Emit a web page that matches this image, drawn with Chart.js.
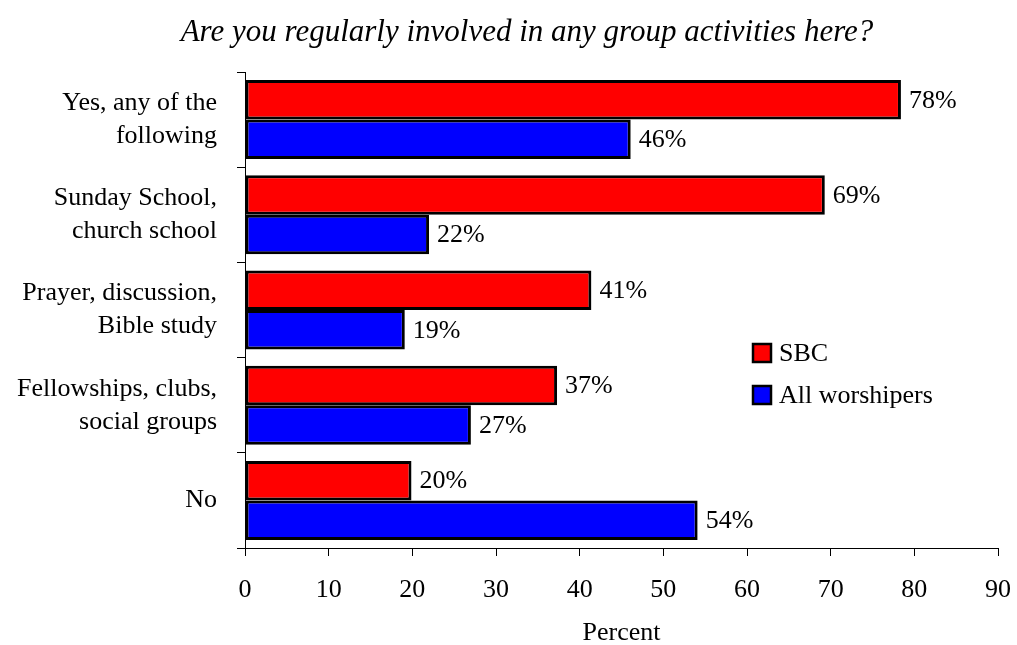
<!DOCTYPE html>
<html>
<head>
<meta charset="utf-8">
<script src="https://cdn.jsdelivr.net/npm/chart.js@4"></script>
<style>
  html,body{margin:0;padding:0;background:#fff;}
  #wrap{width:1017px;height:645px;}
</style>
</head>
<body>
<div id="wrap"><canvas id="ch" width="1017" height="645"></canvas></div>
<script>
const SERIF = "'Liberation Serif','Times New Roman',serif";

const title = 'Are you regularly involved in any group activities here?';
const categories = [
  ['Yes, any of the', 'following'],
  ['Sunday School,', 'church school'],
  ['Prayer, discussion,', 'Bible study'],
  ['Fellowships, clubs,', 'social groups'],
  'No'
];
// bar lengths as measured; the printed labels are the rounded percents
const sbc = [78.4, 69.3, 41.4, 37.3, 19.9];
const allWorshipers = [46.1, 22.0, 19.1, 27.0, 54.1];
const xTicks = [0, 10, 20, 30, 40, 50, 60, 70, 80, 90];

// value labels at the end of each bar
const valueLabels = {
  id: 'valueLabels',
  afterDatasetsDraw(chart){
    const ctx = chart.ctx;
    ctx.save();
    ctx.font = '26px ' + SERIF;
    ctx.fillStyle = '#000';
    ctx.textBaseline = 'middle';
    chart.data.datasets.forEach((ds, i)=>{
      chart.getDatasetMeta(i).data.forEach((bar, j)=>{
        ctx.fillText(Math.round(ds.data[j]) + '%', bar.x + 8, bar.y + 1);
      });
    });
    ctx.restore();
  }
};

// legend sitting inside the plot, right of the short bars; title centred off-canvas-centre
const extras = {
  id: 'extras',
  afterDraw(chart){
    const ctx = chart.ctx;
    ctx.save();
    ctx.fillStyle = '#000';
    ctx.font = 'italic 31px ' + SERIF;
    ctx.textAlign = 'center';
    ctx.textBaseline = 'middle';
    ctx.fillText(title, 527, 33);

    const x = 753, y0 = 353, gap = 42;
    ctx.font = '26px ' + SERIF;
    ctx.textAlign = 'left';
    chart.data.datasets.forEach((ds, i)=>{
      const y = y0 + i*gap;
      ctx.fillStyle = ds.backgroundColor;
      ctx.fillRect(x, y - 9, 18, 18);
      ctx.lineWidth = 2.5; ctx.strokeStyle = '#000';
      ctx.strokeRect(x, y - 9, 18, 18);
      ctx.fillStyle = '#000';
      ctx.fillText(ds.label, x + 26, y + 1);
    });
    ctx.restore();
  }
};

new Chart(document.getElementById('ch'), {
  type: 'bar',
  data: {
    labels: categories,
    datasets: [
      {label:'SBC', data: sbc, backgroundColor:'#ff0000', borderColor:'#000', borderWidth:3, borderSkipped:false},
      {label:'All worshipers', data: allWorshipers, backgroundColor:'#0000ff', borderColor:'#000', borderWidth:3, borderSkipped:false}
    ]
  },
  options: {
    indexAxis: 'y',
    responsive: false,
    animation: false,
    categoryPercentage: 0.83,
    barPercentage: 1.0,
    layout: {padding:{left:0, right:19, top:72, bottom:0}},
    plugins: {
      legend: {display:false},
      tooltip: {enabled:false},
      title: {display:false}
    },
    scales: {
      x: {
        min: 0, max: 90,
        afterBuildTicks(s){ s.ticks = xTicks.map(v=>({value:v})); },
        afterFit(s){ s.height = 97; s.paddingLeft = 0; s.paddingRight = 0; },
        grid: {drawOnChartArea:false, color:'#000', tickLength:8},
        border: {color:'#000', width:1},
        ticks: {color:'#000', font:{family:SERIF, size:26}, padding:19},
        title: {display:true, text:'Percent', color:'#000', font:{family:SERIF, size:26, lineHeight:0.9}, padding:{top:0, bottom:0}}
      },
      y: {
        afterFit(s){ s.width = 245; },
        grid: {offset:true, drawOnChartArea:false, color:'#000', tickLength:8},
        border: {color:'#000', width:1},
        ticks: {color:'#000', font:{family:SERIF, size:26, lineHeight:1.27}, padding:20}
      }
    }
  },
  plugins: [valueLabels, extras]
});
</script>
</body>
</html>
